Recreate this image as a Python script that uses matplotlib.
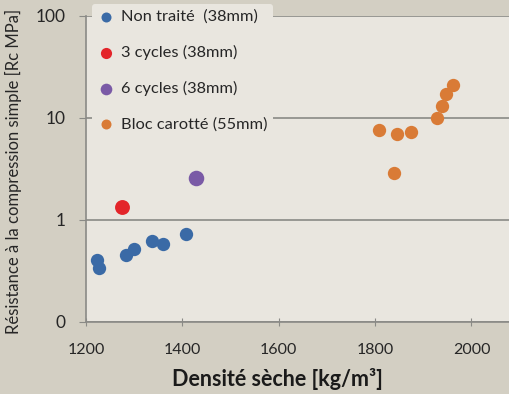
import matplotlib
matplotlib.use("Agg")
import matplotlib.pyplot as plt
from matplotlib.ticker import FixedLocator, FixedFormatter, NullLocator

plt.rcParams['font.family'] = ['Lato', 'DejaVu Sans']

# Data
nt_x = [1222, 1227, 1282, 1299, 1336, 1359, 1407]
nt_y = [0.405, 0.34, 0.454, 0.516, 0.627, 0.578, 0.724]
c3_x = [1275]
c3_y = [1.33]
c6_x = [1428]
c6_y = [2.58]
bc_x = [1808, 1845, 1875, 1840, 1928, 1938, 1947, 1962]
bc_y = [7.67, 6.96, 7.24, 2.91, 10.06, 13.0, 17.3, 21.2]

labels = ["Non traité  (38mm)", "3 cycles (38mm)", "6 cycles (38mm)", "Bloc carotté (55mm)"]
colors = ["#3a6aa6", "#e3252a", "#7a5aa6", "#d97b36"]

x_ticks = [1200, 1400, 1600, 1800, 2000]
y_ticks = [0.1, 1, 10, 100]
y_ticklabels = ["0", "1", "10", "100"]

outer_bg = "#d3cfc3"
plot_bg = "#e9e6df"

fig = plt.figure(figsize=(5.10, 3.94), dpi=100, facecolor=outer_bg)
ax = fig.add_axes([86/510, 72/394, 1 - 86/510, (322-16)/394])
ax.set_facecolor(plot_bg)

ax.scatter(nt_x, nt_y, s=92, color=colors[0], label=labels[0], zorder=3, linewidths=0)
ax.scatter(c3_x, c3_y, s=115, color=colors[1], label=labels[1], zorder=3, linewidths=0)
ax.scatter(c6_x, c6_y, s=125, color=colors[2], label=labels[2], zorder=3, linewidths=0)
ax.scatter(bc_x, bc_y, s=92, color=colors[3], label=labels[3], zorder=3, linewidths=0)

ax.set_yscale('log')
ax.set_ylim(0.1, 100)
ax.set_xlim(1200, 2080)

ax.yaxis.set_major_locator(FixedLocator(y_ticks))
ax.yaxis.set_major_formatter(FixedFormatter(y_ticklabels))
ax.yaxis.set_minor_locator(NullLocator())
ax.set_xticks(x_ticks)
ax.set_xticklabels([str(v) for v in x_ticks])

ax.grid(axis='y', color="#8a8a86", linewidth=1.2, zorder=0)
for sp in ['top', 'right']:
    ax.spines[sp].set_visible(False)
for sp in ['left', 'bottom']:
    ax.spines[sp].set_color("#8a8a86")
    ax.spines[sp].set_linewidth(1.2)

ax.tick_params(axis='y', length=5, color="#8a8a86", labelsize=12.5, labelcolor="#262626", pad=10)
ax.tick_params(axis='x', direction='inout', length=6, color="#8a8a86", labelsize=11.5, labelcolor="#262626", pad=12)

fig.text(13/510, 1 - 171/394, "Résistance à la compression simple [Rc MPa]", rotation=90,
         ha='center', va='center', fontsize=12, color="#262626")
fig.text(277/510, 1 - 379/394, "Densité sèche [kg/m³]", ha='center', va='center',
         fontsize=15.5, fontweight='bold', color="#1a1a1a")

leg = ax.legend(loc='upper left', bbox_to_anchor=(6/424, 1 + 12/306), frameon=True,
                fontsize=11.8, labelspacing=1.28, handletextpad=0.4, borderpad=0.35,
                markerscale=0.75, handlelength=1.0, borderaxespad=0)
leg.get_frame().set_facecolor(plot_bg)
leg.get_frame().set_edgecolor('none')
leg.get_frame().set_alpha(1)
for t in leg.get_texts():
    t.set_color("#262626")

fig.savefig("out.png", dpi=100, facecolor=outer_bg)
